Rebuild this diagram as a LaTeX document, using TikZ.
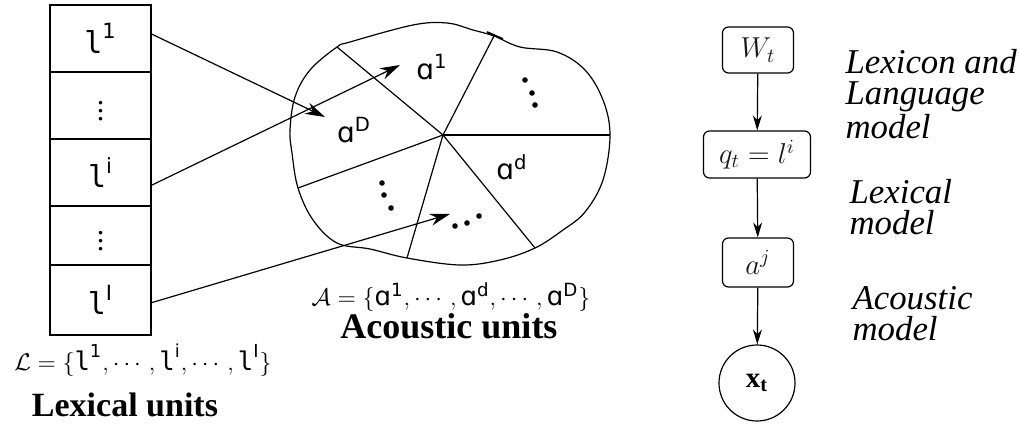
\documentclass[tikz,border=0pt]{standalone}
\usepackage{amsmath}
\usepackage{fontspec}
\setmainfont{Liberation Serif}
\newfontfamily\lexfont{DejaVu Sans Mono}
\newfontfamily\unitfont{DejaVu Sans}
\usetikzlibrary{arrows.meta, positioning}
\newcommand{\lexu}[1]{\text{\lexfont l}^{\text{\unitfont #1}}}
\newcommand{\acu}[1]{\text{\unitfont ɑ}^{\text{\unitfont #1}}}
\tikzstyle{cell} = [rectangle, draw=black, minimum width=50.5pt, inner sep=0pt, font=\fontsize{15}{17}\selectfont]
\tikzstyle{state} = [rectangle, rounded corners=3pt, draw=black, inner sep=0pt, text=black!90, font=\fontsize{14}{16}\selectfont]
\tikzstyle{obs} = [circle, draw=black, minimum size=38pt, inner sep=0pt, font=\fontsize{14.5}{16}\selectfont]
\tikzstyle{arrow} = [-{Stealth[length=10pt,width=6pt]}]
\tikzstyle{chain} = [-{Stealth[length=7.5pt,width=4.5pt]}]
\tikzstyle{caption} = [font=\fontsize{17}{19}\selectfont\bfseries]
\tikzstyle{model} = [anchor=west, align=left, inner sep=0pt, font=\fontsize{17.4}{15.5}\selectfont\itshape]
\tikzstyle{unit} = [font=\fontsize{14}{16}\selectfont]

\begin{document}
\begin{tikzpicture}[x=0.5pt, y=-0.5pt, line width=0.6pt]
\useasboundingbox (0,0) rectangle (1019,428);

% lexical units column
\node (l1) [cell, minimum height=33.5pt] at (100.5,38.5) {$\lexu{1}$};
\node (ld1) [cell, minimum height=33.5pt] at (100.5,105.5) {$\boldsymbol{\vdots}$};
\node (li) [cell, minimum height=33.5pt] at (100.5,172.5) {$\lexu{i}$};
\node (ld2) [cell, minimum height=29.5pt] at (100.5,235.5) {$\boldsymbol{\vdots}$};
\node (lI) [cell, minimum height=35pt] at (100.5,300) {$\lexu{I}$};

\node (lset) [font=\fontsize{12.8}{15}\selectfont] at (143,360)
  {$\mathcal{L}=\{\lexu{1},\cdots,\lexu{i},\cdots,\lexu{I}\}$};
\node (lcap) [caption] at (125,405) {Lexical units};

% acoustic space
\coordinate (ctr) at (443,135);
\coordinate (b1) at (337,47);
\coordinate (b2) at (494,36);
\coordinate (b3) at (610,135);
\coordinate (b4) at (535,248);
\coordinate (b5) at (407,258);
\coordinate (b6) at (298,188);
\draw plot[smooth cycle, tension=0.6] coordinates {
  (290,130) (295,97) (310,70) (337,47) (350,42) (413,25) (447,23) (473,30)
  (494,36) (520,47) (557,52) (585,70) (603,100) (610,135) (603,180)
  (585,212) (563,230) (535,248) (500,260) (460,265) (407,258) (370,249)
  (337,243) (313,220) (298,188) (292,153)};
\draw [line width=0.9pt] (487,32) -- (503,39);
\foreach \b in {b1,b2,b3,b4,b5,b6}
  \draw (ctr) -- (\b);

\node (a1) [unit] at (432,67) {$\acu{1}$};
\node (aD) [unit] at (354,130) {$\acu{D}$};
\node (ad) [unit] at (512,167) {$\acu{d}$};
\foreach \p in {(525,80),(532,93),(535,105),(382,183),(384,195),(391,208),(455,226),(467,223),(479,216)}
  \fill \p circle (1.4pt);

\node (aset) [font=\fontsize{13}{15}\selectfont] at (451,297)
  {$\mathcal{A}=\{\acu{1},\cdots,\acu{d},\cdots,\acu{D}\}$};
\node (acap) [caption, font=\fontsize{18}{20}\selectfont\bfseries] at (449,326) {Acoustic units};

\coordinate (tD) at (325,117);
\coordinate (t1) at (400,65);
\coordinate (tdots) at (450,214);
\draw [arrow] (l1.5) -- (tD);
\draw [arrow] (li.-14) -- (t1);
\draw [arrow] (lI.-3) -- (tdots);

% generative chain
\node (W) [state, minimum width=35.5pt, minimum height=23pt] at (758,50) {$W_t$};
\node (q) [state, minimum width=53.5pt, minimum height=23.5pt] at (757,154.5) {$q_t=l^i$};
\node (aj) [state, minimum width=35.5pt, minimum height=24.5pt] at (758,262.5) {$a^j$};
\node (x) [obs] at (757,383) {$\mathbf{x_t}$};

\draw [chain] (W) -- (q);
\draw [chain] (q) -- (aj);
\draw [chain] (aj) -- (x);

\node (m1) [model] at (845,94) {Lexicon and\\Language\\model};
\node (m2) [model] at (849,207) {Lexical\\model};
\node (m3) [model] at (852,314) {Acoustic\\model};

\end{tikzpicture}
\end{document}
